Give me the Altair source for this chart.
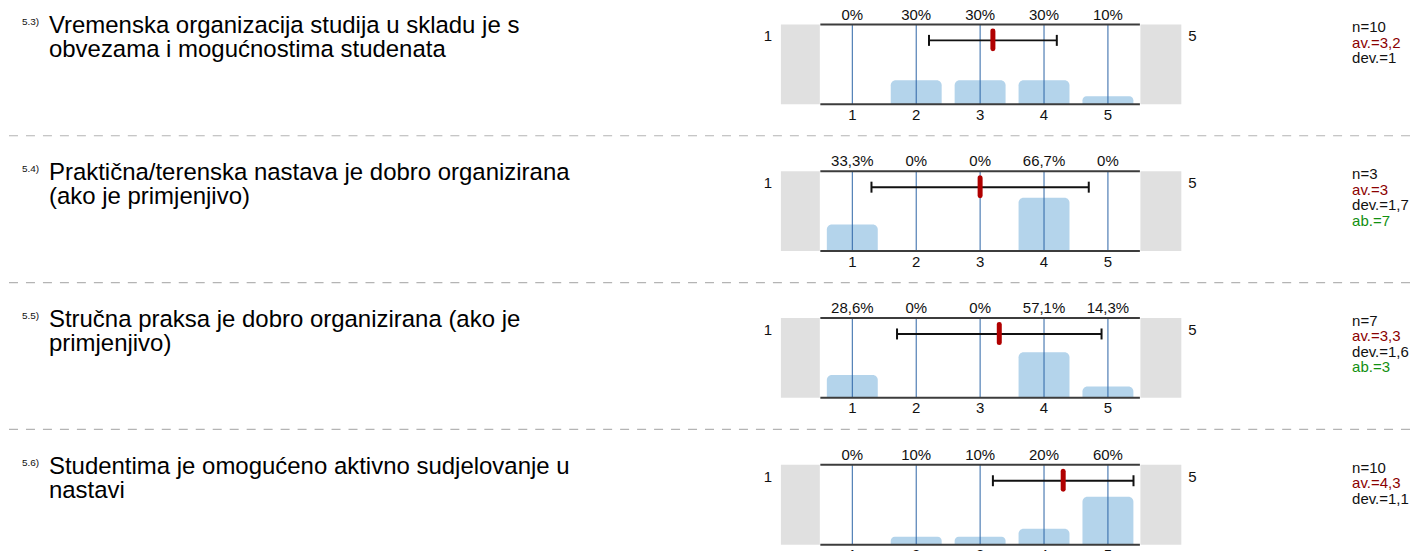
import altair as alt
import pandas as pd

# ---------------- data ----------------
q_nums = ["5.3)", "5.4)", "5.5)", "5.6)"]
q_texts = [
    "Vremenska organizacija studija u skladu je s\nobvezama i mogućnostima studenata",
    "Praktična/terenska nastava je dobro organizirana\n(ako je primjenjivo)",
    "Stručna praksa je dobro organizirana (ako je\nprimjenjivo)",
    "Studentima je omogućeno aktivno sudjelovanje u\nnastavi",
]
categories = [1, 2, 3, 4, 5]
pcts = [
    [0, 30, 30, 30, 10],
    [33.3, 0, 0, 66.7, 0],
    [28.6, 0, 0, 57.1, 14.3],
    [0, 10, 10, 20, 60],
]
n_vals = [10, 3, 7, 10]
av_vals = [3.2, 3.0, 3.3, 4.3]
dev_vals = [1.0, 1.7, 1.6, 1.1]
ab_vals = [None, 7, 3, None]
pole_left = "1"
pole_right = "5"


def fmt(v):
    s = f"{v:.1f}"
    if s.endswith(".0"):
        s = s[:-2]
    return s.replace(".", ",")


FONT = "Liberation Sans"
W = 1404
H = 146.67
XS = alt.Scale(domain=[0.5, 5.5], range=[812.5, 1132.5], padding=0, nice=False, zero=False)
YS = alt.Scale(domain=[0, 100], range=[92, 12], nice=False)

one = pd.DataFrame({"k": [0]})


def build_row(i, last=False):
    df = pd.DataFrame({
        "cat": categories,
        "pct": pcts[i],
        "lbl": [fmt(p) + "%" for p in pcts[i]],
        "catlbl": [str(c) for c in categories],
    })
    st = pd.DataFrame({
        "av": [av_vals[i]],
        "lo": [av_vals[i] - dev_vals[i]],
        "hi": [av_vals[i] + dev_vals[i]],
    })
    caps = pd.DataFrame({"x": [av_vals[i] - dev_vals[i], av_vals[i] + dev_vals[i]]})
    base = alt.Chart(df)
    x = alt.X("cat:Q", scale=XS, axis=None)

    layers = []
    # separator
    if not last:
        layers.append(alt.Chart(one).mark_rule(color="#b4b4b4", strokeWidth=1.2, strokeDash=[9, 8]).encode(
            x=alt.value(0), x2=alt.value(W), y=alt.value(123.5)))
    # gray pole boxes
    for xa, xb in [(773, 812), (1133, 1174)]:
        layers.append(alt.Chart(one).mark_rect(color="#e0e0e0").encode(
            x=alt.value(xa), x2=alt.value(xb),
            y=alt.Y(datum=100, scale=YS, axis=None), y2=alt.Y2(datum=0)))
    # bars
    layers.append(base.mark_bar(width=51, color="#b4d4eb", cornerRadiusTopLeft=5,
                                cornerRadiusTopRight=5).encode(
        x=x, y=alt.Y("pct:Q", scale=YS, axis=None), y2=alt.Y2(datum=0)))
    # vertical grid lines
    layers.append(base.mark_rule(color="#2c64a6", strokeWidth=1).encode(
        x=x, y=alt.Y(datum=0, scale=YS, axis=None), y2=alt.Y2(datum=100)))
    # top and bottom borders
    for yv in (0, 100):
        layers.append(alt.Chart(one).mark_rule(color="#3c3c3c", strokeWidth=2).encode(
            x=alt.X(datum=0.5, scale=XS, axis=None), x2=alt.X2(datum=5.5),
            y=alt.Y(datum=yv, scale=YS, axis=None)))
    # percent labels (first row a little lower so the page does not grow upward)
    pct_y = 8 if i == 0 else 7
    layers.append(base.mark_text(font=FONT, fontSize=15, baseline="alphabetic", color="#111").encode(
        x=x, y=alt.value(pct_y), text="lbl:N"))
    # category labels
    layers.append(base.mark_text(font=FONT, fontSize=15, baseline="alphabetic", color="#111").encode(
        x=x, y=alt.value(107.5), text="catlbl:N"))
    # std dev bar
    layers.append(alt.Chart(st).mark_rule(color="#111", strokeWidth=2).encode(
        x=alt.X("lo:Q", scale=XS, axis=None), x2="hi:Q", y=alt.value(28)))
    layers.append(alt.Chart(caps).mark_rule(color="#111", strokeWidth=2).encode(
        x=alt.X("x:Q", scale=XS, axis=None), y=alt.value(22.5), y2=alt.value(33.5)))
    # mean marker
    layers.append(alt.Chart(st).mark_rule(color="#b00000", strokeWidth=5, strokeCap="round").encode(
        x=alt.X("av:Q", scale=XS, axis=None), y=alt.value(18.5), y2=alt.value(36.5)))
    # pole labels
    for px, t in [(760, pole_left), (1185, pole_right)]:
        layers.append(alt.Chart(one).mark_text(font=FONT, fontSize=15, baseline="alphabetic",
                                               align="center", color="#111").encode(
            x=alt.value(px), y=alt.value(29), text=alt.value(t)))
    # question number and text
    layers.append(alt.Chart(one).mark_text(font=FONT, fontSize=10, baseline="alphabetic", align="left",
                                           color="#111").encode(
        x=alt.value(13), y=alt.value(13), text=alt.value(q_nums[i])))
    layers.append(alt.Chart(one).mark_text(font=FONT, fontSize=24, baseline="alphabetic", align="left",
                                           lineBreak="\n", lineHeight=24, color="#000").encode(
        x=alt.value(40), y=alt.value(21), text=alt.value(q_texts[i])))
    # stats
    stat_lines = [("n=" + str(n_vals[i]), "#111"),
                  ("av.=" + fmt(av_vals[i]), "#8b0000"),
                  ("dev.=" + fmt(dev_vals[i]), "#111")]
    if ab_vals[i] is not None:
        stat_lines.append(("ab.=" + str(ab_vals[i]), "#119011"))
    for j, (t, c) in enumerate(stat_lines):
        layers.append(alt.Chart(one).mark_text(font=FONT, fontSize=15, baseline="middle", align="left",
                                               color=c).encode(
            x=alt.value(1345), y=alt.value(15 + 15.5 * j), text=alt.value(t)))

    return alt.layer(*layers).properties(width=W, height=H)


rows = [build_row(i, last=(i == 3)) for i in range(4)]
chart = (alt.vconcat(*rows, spacing=0, bounds="flush")
         .properties(padding=0)
         .configure(font=FONT)
         .configure_view(strokeWidth=0, stroke=None))

chart.save("out.html", embed_options={"renderer": "svg", "actions": False})
